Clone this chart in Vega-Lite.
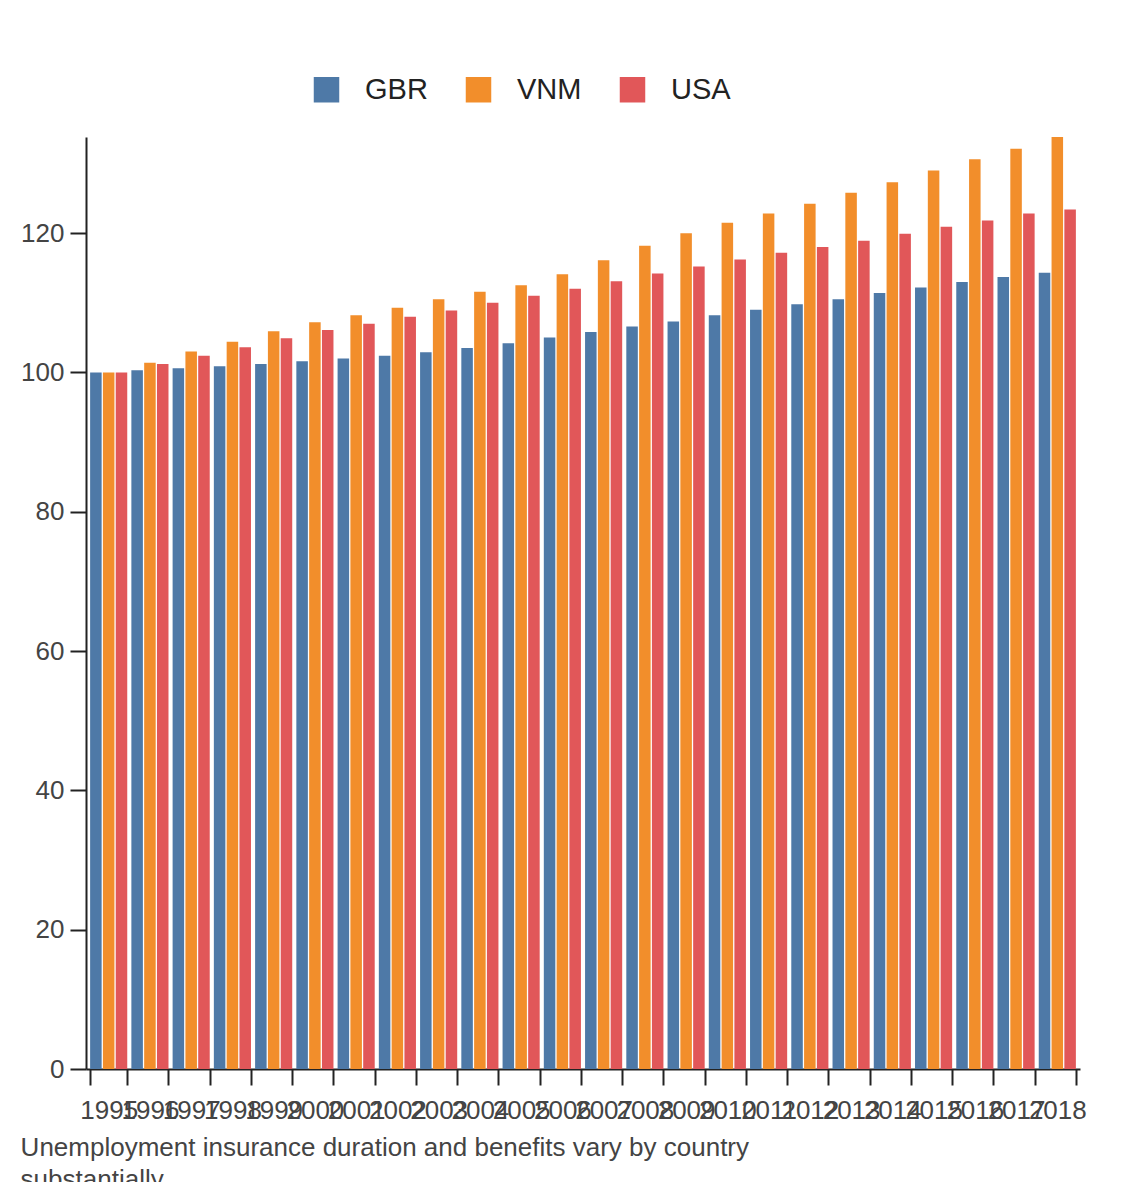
{
  "$schema": "https://vega.github.io/schema/vega-lite/v6.json",
  "width": 994,
  "height": 932,
  "padding": {"left": 20, "top": 75, "right": 25, "bottom": 10},
  "title": {
    "text": ["Unemployment insurance duration and benefits vary by country", "substantially."],
    "orient": "bottom",
    "anchor": "start",
    "font": "Liberation Sans",
    "fontSize": 26,
    "fontWeight": "normal",
    "color": "#444",
    "offset": 12,
    "lineHeight": 32
  },
  "data": {
    "values": [
      {"year": "1995", "GBR": 100.0, "VNM": 100.0, "USA": 100.0},
      {"year": "1996", "GBR": 100.3, "VNM": 101.4, "USA": 101.2},
      {"year": "1997", "GBR": 100.6, "VNM": 103.0, "USA": 102.4},
      {"year": "1998", "GBR": 100.9, "VNM": 104.4, "USA": 103.6},
      {"year": "1999", "GBR": 101.2, "VNM": 105.9, "USA": 104.9},
      {"year": "2000", "GBR": 101.6, "VNM": 107.2, "USA": 106.1},
      {"year": "2001", "GBR": 102.0, "VNM": 108.2, "USA": 107.0},
      {"year": "2002", "GBR": 102.4, "VNM": 109.3, "USA": 108.0},
      {"year": "2003", "GBR": 102.9, "VNM": 110.5, "USA": 108.9},
      {"year": "2004", "GBR": 103.5, "VNM": 111.6, "USA": 110.0},
      {"year": "2005", "GBR": 104.2, "VNM": 112.5, "USA": 111.0},
      {"year": "2006", "GBR": 105.0, "VNM": 114.1, "USA": 112.0},
      {"year": "2007", "GBR": 105.8, "VNM": 116.1, "USA": 113.1},
      {"year": "2008", "GBR": 106.6, "VNM": 118.2, "USA": 114.2},
      {"year": "2009", "GBR": 107.3, "VNM": 120.0, "USA": 115.2},
      {"year": "2010", "GBR": 108.2, "VNM": 121.5, "USA": 116.2},
      {"year": "2011", "GBR": 109.0, "VNM": 122.8, "USA": 117.2},
      {"year": "2012", "GBR": 109.8, "VNM": 124.2, "USA": 118.0},
      {"year": "2013", "GBR": 110.5, "VNM": 125.8, "USA": 118.9},
      {"year": "2014", "GBR": 111.4, "VNM": 127.3, "USA": 119.9},
      {"year": "2015", "GBR": 112.2, "VNM": 129.0, "USA": 120.9},
      {"year": "2016", "GBR": 113.0, "VNM": 130.6, "USA": 121.8},
      {"year": "2017", "GBR": 113.7, "VNM": 132.1, "USA": 122.8},
      {"year": "2018", "GBR": 114.3, "VNM": 133.8, "USA": 123.4}
    ]
  },
  "transform": [
    {"fold": ["GBR", "VNM", "USA"], "as": ["country", "value"]}
  ],
  "mark": {"type": "bar"},
  "encoding": {
    "x": {
      "field": "year", "type": "ordinal", "title": null,
      "scale": {"paddingInner": 0.1, "paddingOuter": 0.1},
      "axis": {"labelAngle": 0, "labelOverlap": false, "labelFontSize": 26, "labelPadding": 12, "tickSize": 16, "tickBand": "extent"}
    },
    "xOffset": {"field": "country", "sort": ["GBR", "VNM", "USA"], "scale": {"paddingInner": 0.1}},
    "y": {
      "field": "value", "type": "quantitative", "title": null,
      "scale": {"domain": [0, 133.8], "nice": false},
      "axis": {"values": [0, 20, 40, 60, 80, 100, 120], "grid": false, "labelFontSize": 26, "tickSize": 16, "labelPadding": 6}
    },
    "color": {
      "field": "country", "type": "nominal",
      "scale": {"domain": ["GBR", "VNM", "USA"], "range": ["#4e79a7", "#f28e2b", "#e15759"]},
      "legend": {"title": null, "orient": "none", "legendX": 226, "legendY": -62, "direction": "horizontal", "labelFontSize": 29, "symbolType": "square", "symbolSize": 650, "symbolStrokeWidth": 0, "columnPadding": 36, "labelOffset": 24}
    }
  },
  "config": {
    "font": "Liberation Sans",
    "view": {"stroke": null},
    "axis": {"domainColor": "#222", "tickColor": "#222", "labelColor": "#444", "domainWidth": 2, "tickWidth": 2},
    "legend": {"labelColor": "#222"}
  }
}
